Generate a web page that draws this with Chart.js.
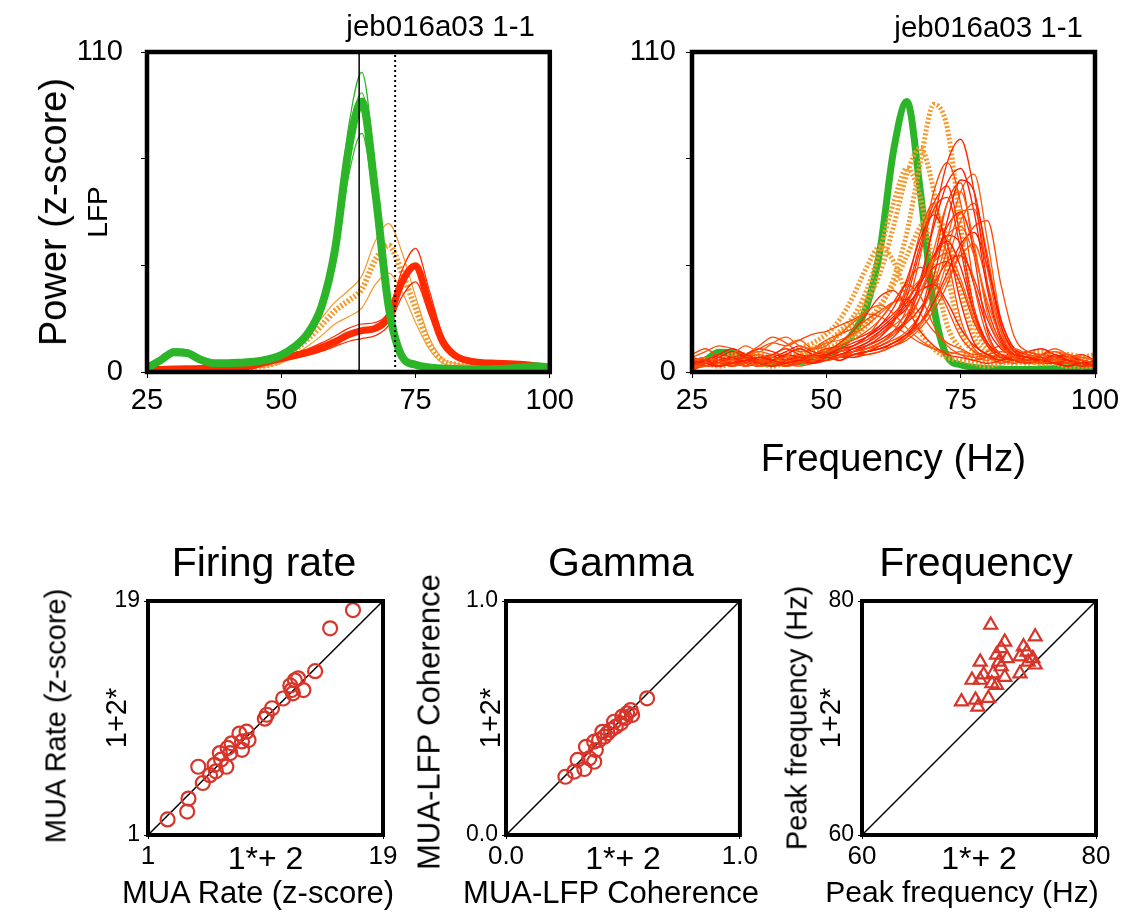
<!DOCTYPE html>
<html>
<head>
<meta charset="utf-8">
<script src="https://cdn.jsdelivr.net/npm/chart.js@4.4.1/dist/chart.umd.min.js"></script>
<style>
  body { margin: 0; background: #fff; width: 1127px; height: 920px; position: relative; overflow: hidden;
         font-family: 'Liberation Sans', Arial, sans-serif; color: #000; }
  canvas { position: absolute; }
  .lbl { position: absolute; line-height: 1; white-space: nowrap; }
  .rot { transform: translate(-50%, -50%) rotate(-90deg); }
  .mid { transform: translateX(-50%); }
</style>
</head>
<body>
<canvas id="lfpLeft" width="580" height="430" style="left:0;top:0"></canvas>
<canvas id="lfpRight" width="547" height="490" style="left:580px;top:0"></canvas>
<canvas id="rateChart" width="400" height="380" style="left:0;top:540px"></canvas>
<canvas id="gammaChart" width="360" height="380" style="left:400px;top:540px"></canvas>
<canvas id="freqChart" width="367" height="380" style="left:760px;top:540px"></canvas>

<div class="lbl" style="right:592px;top:11px;font-size:29.5px">jeb016a03 1-1</div>
<div class="lbl" style="right:44px;top:12px;font-size:29.5px">jeb016a03 1-1</div>
<div class="lbl rot" style="left:53px;top:212px;font-size:38px">Power (z-score)</div>
<div class="lbl mid" style="left:264px;top:542px;font-size:41px">Firing rate</div>
<div class="lbl mid" style="left:621px;top:542px;font-size:41px">Gamma</div>
<div class="lbl mid" style="left:976px;top:542px;font-size:41px">Frequency</div>
<div class="lbl mid" style="left:258px;top:877px;font-size:31px">MUA Rate (z-score)</div>
<div class="lbl mid" style="left:611px;top:877px;font-size:31px">MUA-LFP Coherence</div>
<div class="lbl mid" style="left:962px;top:877px;font-size:30px">Peak frequency (Hz)</div>
<div class="lbl rot" style="left:56px;top:716px;font-size:29px">MUA Rate (z-score)</div>
<div class="lbl rot" style="left:429px;top:722px;font-size:31px">MUA-LFP Coherence</div>
<div class="lbl rot" style="left:797px;top:718px;font-size:29px">Peak frequency (Hz)</div>

<script>
// frequency grid (Hz) shared by all spectra
const freqs = [25, 27.5, 30, 32.5, 35, 37.5, 40, 42.5, 45, 47.5, 50, 52.5, 55, 57.5, 60, 62.5,
  65, 67.5, 70, 72.5, 75, 77.5, 80, 82.5, 85, 87.5, 90, 92.5, 95, 97.5, 100];
const freqTicks = [25, 50, 75, 100];
const powerTicks = [0, 110 / 3, 220 / 3, 110];
const peakLine = 64.5;
const shiftLine = 71.2;

// left panel spectra
const greenMean = [1.4, 4, 6.8, 6.5, 4.2, 3, 3, 3.2, 3.5, 4.3, 5.8, 8.7, 13.4, 22.5, 42, 76,
  93, 62, 22.5, 5.3, 2.5, 1.6, 1.2, 1, 0.9, 0.9, 1, 1.2, 1.6, 2, 1.5];
const greenHigh = [1.6, 4.6, 8, 7.6, 4.8, 3.3, 3.3, 3.5, 3.9, 4.8, 6.5, 9.8, 15, 25, 47, 84,
  103, 70, 25, 6, 2.8, 1.8, 1.3, 1.1, 1, 1, 1.1, 1.3, 1.7, 2.1, 1.6];
const greenMid = [1.5, 4.3, 7.2, 6.9, 4.5, 3.1, 3.1, 3.3, 3.7, 4.5, 6, 9.2, 14, 23.5, 44, 80,
  96, 65, 23, 5.6, 2.6, 1.7, 1.2, 1, 0.9, 0.9, 1, 1.2, 1.6, 2, 1.5];
const greenLow = [1.2, 3.5, 6, 5.7, 3.8, 2.7, 2.7, 2.9, 3.2, 3.9, 5.2, 7.8, 12, 20, 37.5, 67,
  82, 55, 20, 4.8, 2.2, 1.4, 1.1, 0.9, 0.8, 0.8, 0.9, 1.1, 1.5, 1.9, 1.4];
const orangeMean = [0.5, 0.6, 0.7, 0.8, 0.9, 1, 1.2, 1.4, 1.8, 2.4, 4, 7.5, 11.5, 16, 21, 24.5,
  28.5, 38.5, 43.5, 34, 22, 10, 4, 2.5, 2, 1.8, 1.7, 1.6, 1.5, 1.3, 1];
const orangeHigh = [0.6, 0.7, 0.8, 0.9, 1, 1.2, 1.4, 1.6, 2.1, 2.8, 4.6, 8.6, 13, 18.5, 24, 28,
  33, 45, 51, 41, 26, 12, 4.6, 2.9, 2.3, 2.1, 2, 1.9, 1.7, 1.5, 1.2];
const orangeLow = [0.4, 0.5, 0.5, 0.6, 0.7, 0.8, 0.9, 1.1, 1.4, 1.9, 3.1, 5.8, 9, 12.5, 16.5, 19,
  22, 30, 34, 27.5, 17, 8, 3.1, 2, 1.6, 1.4, 1.3, 1.2, 1.2, 1, 0.8];
const redMean = [0.8, 0.9, 1, 1.1, 1.2, 1.3, 1.3, 1.6, 2.3, 3.5, 4.6, 5.6, 6.8, 8.4, 10.4, 12.8,
  14.2, 15, 19, 31, 36.5, 23.5, 10.5, 5.5, 3.8, 3.2, 3, 2.8, 2.6, 2.1, 1.4];
const redHigh = [1, 1.1, 1.2, 1.3, 1.4, 1.5, 1.5, 1.9, 2.7, 4.1, 5.4, 6.6, 8, 10, 12.4, 15,
  16.5, 17, 21, 35, 42.5, 28.5, 13, 6.5, 4.5, 3.8, 3.5, 3.3, 3, 2.5, 1.7];
const redLow = [0.7, 0.8, 0.9, 0.9, 1, 1.1, 1.1, 1.4, 2, 3, 3.9, 4.8, 5.8, 7.1, 8.8, 10.5,
  11.5, 12.5, 16, 26, 31, 20, 9.3, 4.7, 3.2, 2.7, 2.6, 2.4, 2.2, 1.8, 1.2];

// right panel: individual spectra
const orangeRuns = [
  [2, 3, 4, 5, 4, 3, 2, 3, 4, 5, 7, 9, 12, 16, 22, 32, 48, 72, 92, 84, 50, 18, 8, 5, 4, 3, 4, 5, 6, 5, 3],
  [3, 4, 5, 4, 3, 4, 5, 4, 6, 8, 10, 13, 17, 24, 34, 50, 68, 77, 62, 34, 14, 7, 5, 4, 3, 4, 3, 4, 3, 3, 2],
  [2, 3, 4, 5, 6, 5, 4, 5, 6, 8, 10, 14, 19, 28, 42, 58, 70, 60, 36, 16, 8, 5, 4, 4, 5, 4, 3, 3, 4, 3, 2],
  [3, 4, 5, 6, 5, 4, 5, 6, 8, 10, 13, 18, 26, 36, 43, 38, 26, 14, 8, 5, 4, 3, 2, 3, 4, 5, 4, 3, 2, 2, 2],
  [4, 3, 2, 3, 5, 6, 4, 3, 5, 7, 8, 10, 13, 17, 23, 30, 40, 50, 55, 46, 28, 12, 6, 4, 5, 6, 7, 5, 4, 5, 6]
];
const redRuns = [
  [3, 4, 2, 3, 5, 3, 2, 4, 5, 3, 4, 6, 5, 7, 9, 12, 18, 30, 52, 72, 80, 62, 30, 12, 6, 4, 5, 3, 4, 3, 2],
  [2, 3, 4, 2, 3, 4, 3, 2, 3, 5, 4, 5, 7, 8, 10, 14, 22, 40, 62, 72, 58, 30, 12, 6, 5, 3, 4, 5, 3, 4, 3],
  [4, 3, 2, 3, 4, 5, 4, 3, 4, 3, 5, 4, 6, 7, 8, 10, 13, 20, 33, 52, 66, 62, 38, 16, 7, 5, 4, 6, 4, 3, 4],
  [2, 2, 3, 4, 3, 2, 3, 4, 3, 4, 5, 6, 6, 8, 10, 13, 17, 26, 42, 58, 62, 44, 20, 9, 5, 4, 3, 4, 5, 3, 2],
  [3, 4, 3, 5, 6, 4, 3, 2, 4, 6, 5, 4, 7, 9, 12, 17, 26, 42, 56, 60, 42, 20, 9, 5, 4, 5, 3, 3, 4, 2, 3],
  [1, 2, 3, 2, 3, 4, 5, 3, 2, 3, 4, 5, 6, 6, 7, 9, 12, 17, 27, 42, 55, 56, 35, 14, 6, 7, 5, 4, 3, 4, 3],
  [3, 2, 4, 5, 3, 2, 4, 6, 5, 4, 6, 8, 9, 12, 16, 22, 32, 46, 54, 44, 24, 10, 6, 4, 5, 3, 4, 3, 2, 3, 2],
  [2, 3, 2, 3, 2, 3, 4, 5, 4, 5, 7, 8, 9, 11, 13, 16, 20, 28, 38, 47, 50, 40, 24, 12, 7, 5, 6, 4, 3, 4, 3],
  [2, 4, 6, 5, 3, 4, 6, 8, 6, 5, 7, 10, 14, 20, 26, 28, 22, 14, 9, 6, 5, 4, 3, 4, 6, 5, 4, 3, 2, 3, 2],
  [3, 2, 3, 4, 5, 6, 4, 3, 5, 6, 8, 7, 9, 12, 18, 24, 30, 26, 16, 9, 6, 4, 5, 3, 4, 3, 5, 4, 3, 2, 3],
  [2, 3, 4, 3, 2, 3, 4, 5, 3, 4, 5, 6, 8, 10, 14, 18, 22, 30, 40, 45, 36, 20, 10, 6, 4, 3, 4, 5, 4, 3, 2],
  [4, 5, 3, 6, 9, 7, 10, 12, 9, 8, 10, 11, 13, 16, 20, 24, 27, 32, 38, 41, 32, 18, 9, 7, 8, 6, 5, 7, 6, 5, 4],
  [2, 2, 3, 3, 2, 3, 3, 2, 3, 4, 4, 5, 5, 6, 7, 9, 12, 20, 38, 58, 65, 40, 14, 6, 4, 3, 4, 3, 3, 2, 2],
  [3, 4, 3, 2, 4, 5, 3, 4, 6, 5, 6, 9, 11, 14, 18, 24, 31, 36, 32, 22, 12, 7, 5, 6, 4, 5, 3, 4, 5, 3, 3],
  [2, 3, 4, 3, 4, 3, 2, 3, 4, 5, 6, 5, 6, 7, 8, 10, 13, 17, 24, 34, 44, 48, 36, 18, 8, 6, 5, 4, 5, 4, 3],
  [3, 5, 4, 3, 5, 7, 6, 9, 11, 8, 9, 13, 17, 21, 23, 20, 15, 11, 8, 6, 7, 5, 4, 6, 5, 4, 3, 4, 3, 4, 3],
  [1, 2, 2, 3, 3, 4, 3, 4, 5, 4, 5, 6, 7, 9, 11, 14, 17, 22, 30, 38, 40, 32, 18, 9, 6, 5, 6, 7, 5, 4, 3],
  [2, 3, 3, 2, 3, 2, 3, 4, 4, 3, 5, 6, 7, 9, 12, 18, 30, 48, 58, 40, 18, 8, 5, 4, 3, 4, 3, 3, 2, 3, 2],
  [3, 2, 3, 4, 3, 4, 5, 4, 3, 4, 5, 6, 7, 8, 10, 13, 19, 32, 50, 65, 70, 55, 28, 11, 6, 5, 4, 5, 4, 3, 3],
  [2, 3, 2, 3, 4, 3, 4, 5, 6, 4, 5, 6, 6, 7, 9, 11, 14, 20, 30, 46, 62, 68, 45, 18, 8, 5, 4, 3, 4, 3, 2],
  [4, 3, 5, 4, 3, 5, 4, 3, 5, 6, 7, 6, 8, 10, 13, 18, 28, 44, 58, 64, 46, 22, 10, 6, 5, 4, 6, 5, 4, 3, 3],
  [3, 4, 3, 2, 3, 4, 3, 4, 5, 4, 5, 6, 6, 7, 8, 9, 11, 15, 21, 30, 42, 50, 52, 30, 12, 7, 6, 5, 4, 5, 4],
  [5, 4, 6, 8, 6, 4, 5, 7, 9, 7, 6, 8, 10, 12, 15, 19, 24, 32, 40, 47, 44, 30, 15, 8, 6, 7, 8, 6, 5, 6, 4],
  [2, 3, 4, 3, 5, 4, 3, 4, 5, 6, 5, 6, 7, 8, 9, 11, 13, 17, 23, 32, 40, 44, 30, 14, 7, 5, 6, 8, 6, 4, 3],
  [3, 2, 3, 4, 6, 8, 7, 5, 4, 6, 8, 9, 11, 13, 16, 20, 25, 31, 36, 38, 30, 17, 9, 6, 5, 4, 3, 4, 3, 3, 2],
  [6, 8, 5, 4, 6, 9, 12, 10, 7, 8, 11, 13, 15, 18, 21, 24, 25, 20, 14, 10, 8, 6, 7, 9, 7, 5, 6, 4, 5, 4, 3],
  [2, 3, 5, 7, 5, 3, 4, 6, 8, 6, 5, 7, 9, 11, 14, 18, 23, 28, 30, 24, 15, 9, 6, 5, 7, 6, 4, 5, 6, 4, 3],
  [3, 4, 3, 4, 3, 2, 3, 4, 3, 4, 5, 5, 6, 7, 8, 10, 12, 16, 24, 38, 52, 58, 40, 16, 8, 6, 5, 4, 3, 4, 3],
  [4, 5, 4, 3, 4, 5, 6, 5, 4, 5, 6, 7, 8, 9, 11, 14, 18, 26, 38, 50, 55, 42, 22, 10, 6, 7, 5, 4, 5, 4, 3],
  [5, 7, 9, 8, 6, 8, 10, 9, 11, 13, 14, 16, 18, 20, 19, 16, 13, 10, 8, 7, 6, 5, 6, 7, 6, 5, 4, 5, 4, 3, 4]
];

// bottom scatter panels (x = 1*+2, y = 1+2*)
const rateX = [2.5, 4.0, 4.1, 5.2, 4.85, 5.75, 6.2, 6.1, 6.6, 7.0, 6.5, 7.1, 7.3, 7.4, 8.2, 8.0,
  8.55, 8.7, 8.2, 9.95, 10.1, 10.5, 11.35, 12.0, 12.1, 12.9, 12.25, 12.5, 13.8, 14.95, 16.7, 11.9];
const rateY = [2.2, 2.8, 3.8, 5.0, 6.25, 5.6, 5.9, 6.4, 6.8, 6.25, 7.3, 7.7, 7.3, 8.05, 7.55, 8.8,
  8.95, 8.3, 8.2, 9.95, 10.25, 10.75, 11.5, 12.15, 11.9, 12.15, 12.9, 13.05, 13.6, 16.9, 18.3, 12.5];
const cohX = [0.254, 0.292, 0.335, 0.306, 0.377, 0.342, 0.384, 0.398, 0.377, 0.412, 0.434, 0.448,
  0.469, 0.462, 0.49, 0.497, 0.518, 0.533, 0.539, 0.603, 0.356, 0.42, 0.51];
const cohY = [0.249, 0.271, 0.282, 0.321, 0.313, 0.377, 0.363, 0.406, 0.399, 0.441, 0.435, 0.449,
  0.463, 0.484, 0.477, 0.506, 0.52, 0.534, 0.513, 0.584, 0.328, 0.42, 0.5];
const peakX = [71.0, 74.8, 72.2, 71.9, 73.8, 74.1, 71.5, 72.4, 73.5, 74.6, 70.1, 71.9, 74.2, 74.8,
  70.4, 71.2, 72.2, 73.5, 69.4, 70.1, 71.1, 71.5, 68.5, 69.7, 70.8, 69.9, 71.7];
const peakY = [77.95, 76.95, 76.5, 75.95, 76.1, 75.65, 75.4, 75.1, 75.25, 75.1, 74.8, 74.4, 74.8, 74.55,
  73.7, 73.8, 73.5, 73.8, 73.25, 73.25, 72.95, 72.8, 71.4, 71.55, 71.7, 70.95, 74.8];

Chart.defaults.font.family = "'Liberation Sans', Arial, sans-serif";
Chart.defaults.color = '#000';

const GREEN = '#2db52a';
const ORANGE = '#f49a2c';
const RED = '#ff2a00';
const MARK = '#d8352a';

// thick black box round the plot area
const framePlugin = {
  id: 'frame',
  afterDatasetsDraw(chart, args, opts) {
    const { ctx, chartArea: a } = chart;
    ctx.save();
    ctx.strokeStyle = '#000';
    ctx.lineWidth = opts.width || 4;
    ctx.strokeRect(a.left, a.top, a.right - a.left, a.bottom - a.top);
    ctx.restore();
  }
};

function curve(ys, color, width, dash) {
  return {
    data: freqs.map((f, i) => ({ x: f, y: ys[i] })),
    borderColor: color,
    borderWidth: width,
    borderDash: dash || [],
    pointRadius: 0,
    cubicInterpolationMode: 'monotone',
    fill: false
  };
}

function vline(x, dash, width) {
  return {
    data: [{ x: x, y: 0 }, { x: x, y: 110 }],
    borderColor: '#000',
    borderWidth: width,
    borderDash: dash,
    pointRadius: 0
  };
}

function spectrumOptions(pad, yWidth, xHeight, yPad, yTitle, xTitle) {
  return {
    responsive: false,
    animation: false,
    layout: { padding: pad },
    plugins: { legend: { display: false }, tooltip: { enabled: false }, frame: { width: 4.5 } },
    scales: {
      x: {
        type: 'linear', min: 25, max: 100,
        afterBuildTicks: s => { s.ticks = freqTicks.map(v => ({ value: v })); },
        afterFit: s => { s.height = xHeight; },
        ticks: { font: { size: 29 }, padding: 6, autoSkip: false, maxRotation: 0 },
        grid: { drawOnChartArea: false, tickLength: 6, tickColor: '#000' },
        border: { display: false },
        title: xTitle
      },
      y: {
        type: 'linear', min: 0, max: 110,
        afterBuildTicks: s => { s.ticks = powerTicks.map(v => ({ value: v })); },
        afterFit: s => { s.width = yWidth; },
        ticks: {
          font: { size: 29 }, padding: yPad, autoSkip: false,
          callback: v => (v === 0 || v === 110) ? String(v) : ''
        },
        grid: { drawOnChartArea: false, tickLength: 6, tickColor: '#000' },
        border: { display: false },
        title: yTitle
      }
    }
  };
}

// left spectrum panel
const leftSets = [
  vline(peakLine, [], 1.5),
  vline(shiftLine, [2, 3], 2),
  curve(greenMean, GREEN, 8),
  curve(greenHigh, GREEN, 1.2),
  curve(greenMid, GREEN, 1.2),
  curve(greenLow, GREEN, 1.2),
  curve(redMean, RED, 7),
  curve(redHigh, RED, 1.2),
  curve(redLow, RED, 1.2),
  curve(orangeMean, ORANGE, 6, [2, 2]),
  curve(orangeHigh, ORANGE, 1.2),
  curve(orangeLow, ORANGE, 1.2)
];

new Chart(document.getElementById('lfpLeft'), {
  type: 'line',
  data: { datasets: leftSets },
  options: spectrumOptions({ top: 52, right: 27, left: 0, bottom: 0 }, 147, 58, 18,
    { display: true, text: 'LFP', font: { size: 28 }, padding: { top: 82, bottom: 0 } },
    { display: false }),
  plugins: [framePlugin]
});

// right spectrum panel
const redShades = ['#ff2a00', '#ff4a05', '#ff1800', '#ff5e10'];
const rightSets = [];
redRuns.forEach((r, i) => rightSets.push(curve(r, redShades[i % redShades.length], 1.3)));
orangeRuns.forEach(r => rightSets.push(curve(r, ORANGE, 5, [2, 2])));
rightSets.push(curve(greenMean, GREEN, 7));

new Chart(document.getElementById('lfpRight'), {
  type: 'line',
  data: { datasets: rightSets },
  options: spectrumOptions({ top: 52, right: 32, left: 0, bottom: 0 }, 112, 118, 10,
    { display: false },
    { display: true, text: 'Frequency (Hz)', font: { size: 38.5 }, padding: { top: 0, bottom: 7 } }),
  plugins: [framePlugin]
});

// bottom scatter panels
function scatterChart(id, xs, ys, lo, hi, mid, fmt, markStyle, markSize, padRight, yWidth, starPad) {
  const pts = xs.map((x, i) => ({ x: x, y: ys[i] }));
  new Chart(document.getElementById(id), {
    type: 'scatter',
    data: {
      datasets: [
        {
          data: pts, pointStyle: markStyle, pointRadius: markSize, borderColor: MARK,
          backgroundColor: 'rgba(0,0,0,0)', borderWidth: 2.2
        },
        {
          data: [{ x: lo, y: lo }, { x: hi, y: hi }], showLine: true, borderColor: '#000',
          borderWidth: 1.5, pointRadius: 0
        }
      ]
    },
    options: {
      responsive: false,
      animation: false,
      layout: { padding: { top: 61, right: padRight, left: 0, bottom: 0 } },
      plugins: { legend: { display: false }, tooltip: { enabled: false }, frame: { width: 4 } },
      scales: {
        x: {
          type: 'linear', min: lo, max: hi,
          afterBuildTicks: s => { s.ticks = [lo, mid, hi].map(v => ({ value: v })); },
          afterFit: s => { s.height = 85; },
          ticks: {
            autoSkip: false, maxRotation: 0, padding: 2,
            font: c => ({ size: c.tick && c.tick.value === mid ? 32 : 26 }),
            callback: v => v === mid ? '1*+ 2' : fmt(v)
          },
          grid: {
            drawOnChartArea: false, tickLength: 4,
            tickColor: c => (c.tick && c.tick.value === mid) ? 'rgba(0,0,0,0)' : '#000'
          },
          border: { display: false }
        },
        y: {
          type: 'linear', min: lo, max: hi,
          afterBuildTicks: s => { s.ticks = [lo, hi].map(v => ({ value: v })); },
          afterFit: s => { s.width = yWidth; },
          ticks: { autoSkip: false, padding: 4, font: { size: 23 }, callback: v => fmt(v) },
          grid: { drawOnChartArea: false, tickLength: 4, tickColor: '#000' },
          border: { display: false },
          title: { display: true, text: '1+2*', font: { size: 29 }, padding: { top: starPad, bottom: 0 } }
        }
      }
    },
    plugins: [framePlugin]
  });
}

scatterChart('rateChart', rateX, rateY, 1, 19, 10, v => String(v), 'circle', 7, 17, 148, 101);
scatterChart('gammaChart', cohX, cohY, 0, 1, 0.5, v => v.toFixed(1), 'circle', 7, 18, 106, 75);
scatterChart('freqChart', peakX, peakY, 60, 80, 70, v => String(v), 'triangle', 7.5, 31, 102, 55);
</script>
</body>
</html>
